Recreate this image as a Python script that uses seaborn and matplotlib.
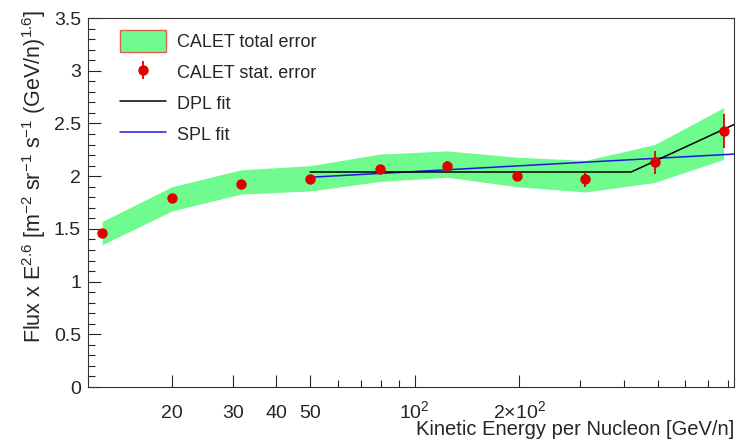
import matplotlib
matplotlib.use('Agg')
import matplotlib.pyplot as plt
import seaborn as sns
import pandas as pd
import numpy as np
from matplotlib.lines import Line2D
from matplotlib.patches import Patch
from matplotlib.ticker import FixedLocator, FixedFormatter, MultipleLocator, NullFormatter

# CALET data points
energy = [12.6, 20.0, 31.6, 50.0, 79.4, 124.0, 197.0, 310.0, 490.0, 775.0]
flux = [1.46, 1.79, 1.93, 1.97, 2.07, 2.10, 2.00, 1.97, 2.13, 2.43]
stat_err = [0.02, 0.02, 0.02, 0.02, 0.03, 0.04, 0.05, 0.07, 0.105, 0.16]

# total error band
band_low = [1.35, 1.67, 1.83, 1.86, 1.95, 1.99, 1.90, 1.85, 1.94, 2.16]
band_high = [1.57, 1.90, 2.06, 2.10, 2.21, 2.24, 2.18, 2.15, 2.30, 2.65]

# fits
dpl_x = [50.0, 420.0, 830.0]
dpl_y = [2.04, 2.04, 2.49]
spl_x = [50.0, 830.0]
spl_y = [1.99, 2.21]

green = '#70fb8f'
red = '#e00000'
blue = '#1a1adf'

sns.set_style('ticks')
plt.rcParams['font.family'] = ['Liberation Sans', 'DejaVu Sans']
plt.rcParams['mathtext.default'] = 'regular'

fig = plt.figure(figsize=(7.41, 4.41), dpi=100)
ax = fig.add_axes([0.1188, 0.1224, 0.9906 - 0.1188, 0.959 - 0.1224])

ax.fill_between(energy, band_low, band_high, color=green, linewidth=0)

df_dpl = pd.DataFrame({'E': dpl_x, 'F': dpl_y})
df_spl = pd.DataFrame({'E': spl_x, 'F': spl_y})
sns.lineplot(data=df_spl, x='E', y='F', ax=ax, color=blue, linewidth=1.1)
sns.lineplot(data=df_dpl, x='E', y='F', ax=ax, color='black', linewidth=1.1)

eb = ax.errorbar(energy, flux, yerr=stat_err, fmt='o', color=red, ecolor=red, markersize=7.5,
                 markeredgewidth=0, elinewidth=1.3, capsize=0, zorder=5)

ax.set_xscale('log')
ax.set_xlim(11.47, 830)
ax.set_ylim(0, 3.5)

ax.xaxis.set_major_locator(FixedLocator([20, 30, 40, 50, 100, 200]))
ax.xaxis.set_major_formatter(FixedFormatter(['20', '30', '40', '50', '10$^2$', '2×10$^2$']))
ax.xaxis.set_minor_locator(FixedLocator([60, 70, 80, 90, 300, 400, 500, 600, 700, 800]))
ax.xaxis.set_minor_formatter(NullFormatter())
ax.yaxis.set_major_locator(MultipleLocator(0.5))
ax.yaxis.set_minor_locator(MultipleLocator(0.1))
ax.yaxis.set_major_formatter(matplotlib.ticker.FuncFormatter(lambda v, p: f'{v:g}'))

ax.tick_params(axis='both', which='major', direction='in', length=9, width=0.8, labelsize=14)
ax.tick_params(axis='both', which='minor', direction='in', length=5, width=0.8)
ax.tick_params(axis='y', which='major', pad=5)
ax.tick_params(axis='x', which='major', pad=22.5)
for lab in ax.get_xticklabels():
    lab.set_verticalalignment('baseline')
for s in ax.spines.values():
    s.set_linewidth(0.8)
    s.set_color('#333333')

ax.set_xlabel('Kinetic Energy per Nucleon [GeV/n]', fontsize=14.5)
ax.xaxis.set_label_coords(1.0, -0.116)
ax.xaxis.label.set_horizontalalignment('right')
ax.xaxis.label.set_verticalalignment('center')
ax.set_ylabel('Flux x E$^{2.6}$ [m$^{-2}$ sr$^{-1}$ s$^{-1}$ (GeV/n)$^{1.6}$]', fontsize=15.5)
ax.yaxis.set_label_coords(-0.083, 1.022)
ax.yaxis.label.set_horizontalalignment('right')
ax.yaxis.label.set_verticalalignment('center')

handles = [
    Patch(facecolor=green, edgecolor='#e06050', linewidth=1.0),
    eb,
    Line2D([0], [0], color='black', linewidth=1.1),
    Line2D([0], [0], color=blue, linewidth=1.1),
]
labels = ['CALET total error', 'CALET stat. error', 'DPL fit', 'SPL fit']
ax.legend(handles, labels, loc='upper left', bbox_to_anchor=(0.024, 1.011), frameon=False,
          fontsize=13, handlelength=2.55, handleheight=1.5, labelspacing=0.5, handletextpad=0.6)

fig.savefig('out.png', dpi=100)
